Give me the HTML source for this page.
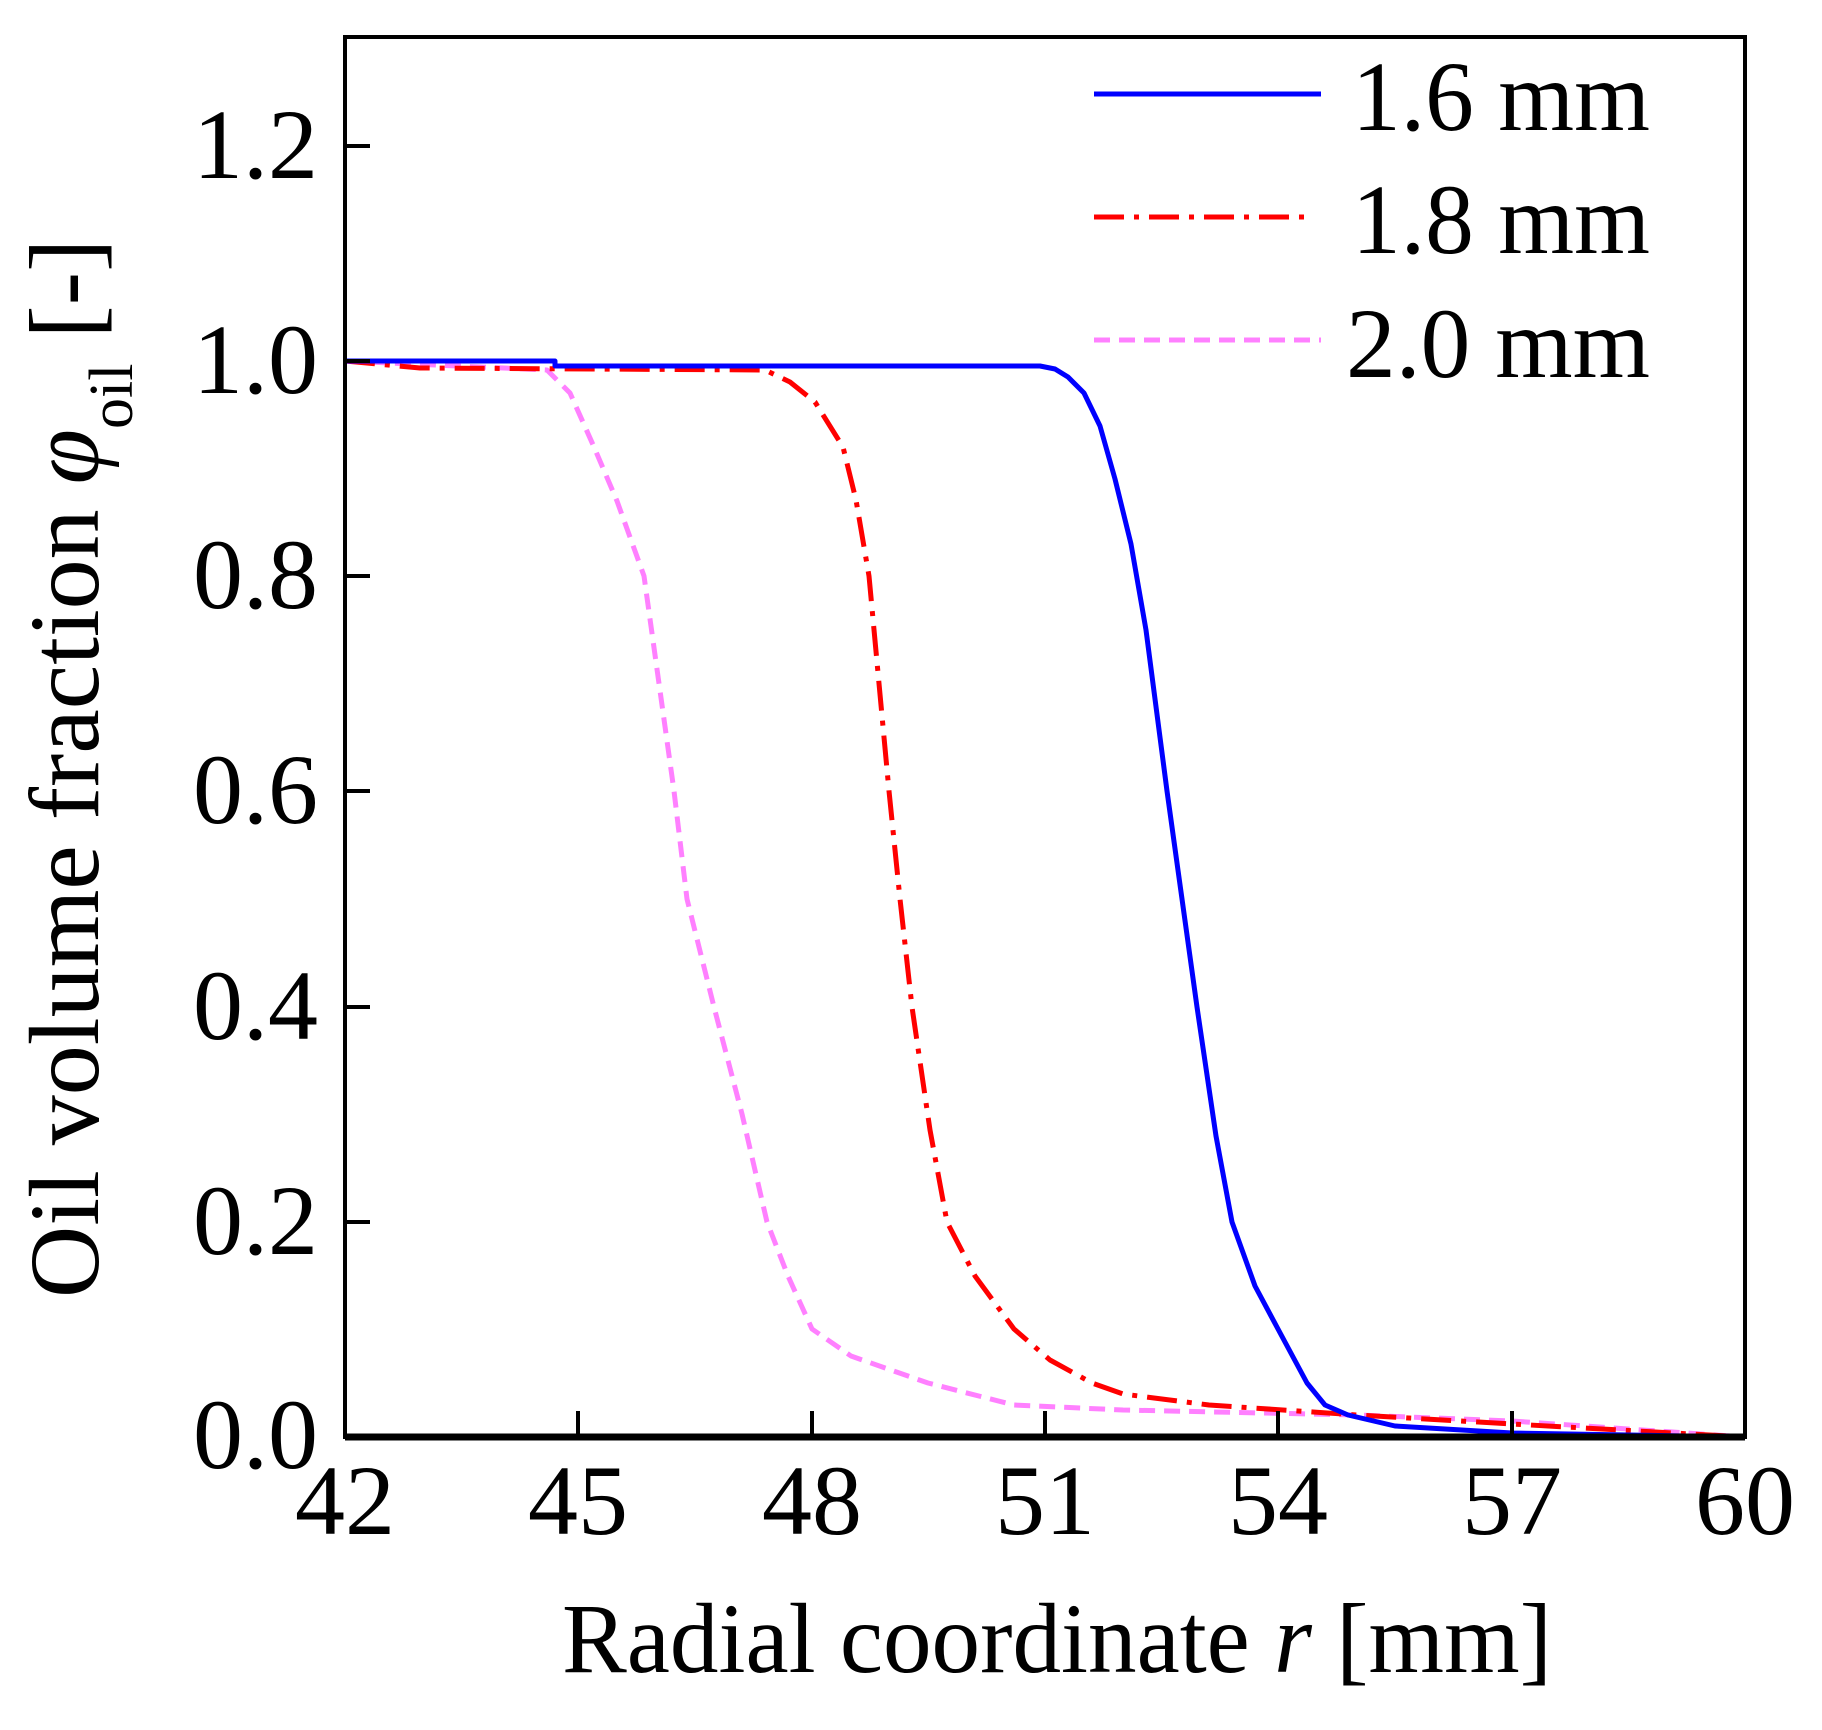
<!DOCTYPE html>
<html><head><meta charset="utf-8"><style>
html,body{margin:0;padding:0;background:#fff;}
svg{display:block;}
text{font-family:"Liberation Serif",serif;fill:#000;}
</style></head><body>
<svg width="1822" height="1730" viewBox="0 0 1822 1730" xmlns="http://www.w3.org/2000/svg">
<rect width="1822" height="1730" fill="#fff"/>
<polyline fill="none" stroke="#ff80ff" stroke-width="5" stroke-dasharray="16,9" stroke-linejoin="round"
 points="345,361 547,370 570,393 594,447 617,501 644,576 674,791 687,899 714,1007 742,1114 767,1222 788,1276 812,1329 851,1356 928,1383 1014,1405 1123,1410 1357,1415 1512,1421 1745,1437"/>
<polyline fill="none" stroke="#ff0000" stroke-width="5" stroke-dasharray="30,10,5,10" stroke-linejoin="round"
 points="345,361 420,368 765,370 790,382 815,402 843,447 856,500 869,576 889,791 900,899 912,1007 930,1130 947,1222 975,1276 1014,1329 1050,1360 1092,1383 1123,1394 1209,1405 1357,1415 1512,1424 1745,1437"/>
<polyline fill="none" stroke="#0000ff" stroke-width="5" stroke-linejoin="round"
 points="345,361 555,361 555,366 1040,366 1055,369 1068,377 1084,393 1100,426 1115,479 1131,544 1146,630 1167,791 1197,1007 1216,1136 1232,1222 1255,1286 1278,1329 1307,1383 1325,1405 1348,1415 1395,1426 1512,1433 1745,1437"/>
<rect x="345" y="37" width="1400" height="1400" fill="none" stroke="#000" stroke-width="4"/>
<line x1="345" y1="1437" x2="1745" y2="1437" stroke="#000" stroke-width="7"/>
<g stroke="#000" stroke-width="4">
<line x1="578" y1="1437" x2="578" y2="1411"/>
<line x1="812" y1="1437" x2="812" y2="1411"/>
<line x1="1045" y1="1437" x2="1045" y2="1411"/>
<line x1="1278" y1="1437" x2="1278" y2="1411"/>
<line x1="1512" y1="1437" x2="1512" y2="1411"/>
<line x1="345" y1="1222" x2="370" y2="1222"/>
<line x1="345" y1="1007" x2="370" y2="1007"/>
<line x1="345" y1="791" x2="370" y2="791"/>
<line x1="345" y1="576" x2="370" y2="576"/>
<line x1="345" y1="361" x2="370" y2="361"/>
<line x1="345" y1="146" x2="370" y2="146"/>
</g>
<g font-size="100" text-anchor="middle">
<text x="345" y="1534">42</text>
<text x="578" y="1534">45</text>
<text x="812" y="1534">48</text>
<text x="1045" y="1534">51</text>
<text x="1278" y="1534">54</text>
<text x="1512" y="1534">57</text>
<text x="1745" y="1534">60</text>
</g>
<g font-size="100" text-anchor="end">
<text x="318" y="1468">0.0</text>
<text x="318" y="1254">0.2</text>
<text x="318" y="1039">0.4</text>
<text x="318" y="823">0.6</text>
<text x="318" y="608">0.8</text>
<text x="318" y="393">1.0</text>
<text x="318" y="178">1.2</text>
</g>
<text x="562" y="1672" font-size="100" textLength="990" lengthAdjust="spacingAndGlyphs">Radial coordinate <tspan font-style="italic">r</tspan> [mm]</text>
<g transform="translate(98,1298) rotate(-90)">
<text x="0" y="0" font-size="100">Oil volume fraction <tspan font-style="italic">φ</tspan><tspan font-size="62" dy="34">oil</tspan><tspan dy="-34"> [-]</tspan></text>
</g>
<line x1="1094" y1="94" x2="1321" y2="94" stroke="#0000ff" stroke-width="5"/>
<line x1="1094" y1="217" x2="1311" y2="217" stroke="#ff0000" stroke-width="5" stroke-dasharray="30,10,5,10"/>
<line x1="1094" y1="340" x2="1321" y2="340" stroke="#ff80ff" stroke-width="5" stroke-dasharray="16,9"/>
<g font-size="100">
<text x="1352" y="130" textLength="298" lengthAdjust="spacingAndGlyphs">1.6 mm</text>
<text x="1352" y="253" textLength="298" lengthAdjust="spacingAndGlyphs">1.8 mm</text>
<text x="1346" y="377" textLength="304" lengthAdjust="spacingAndGlyphs">2.0 mm</text>
</g>
</svg>
</body></html>
